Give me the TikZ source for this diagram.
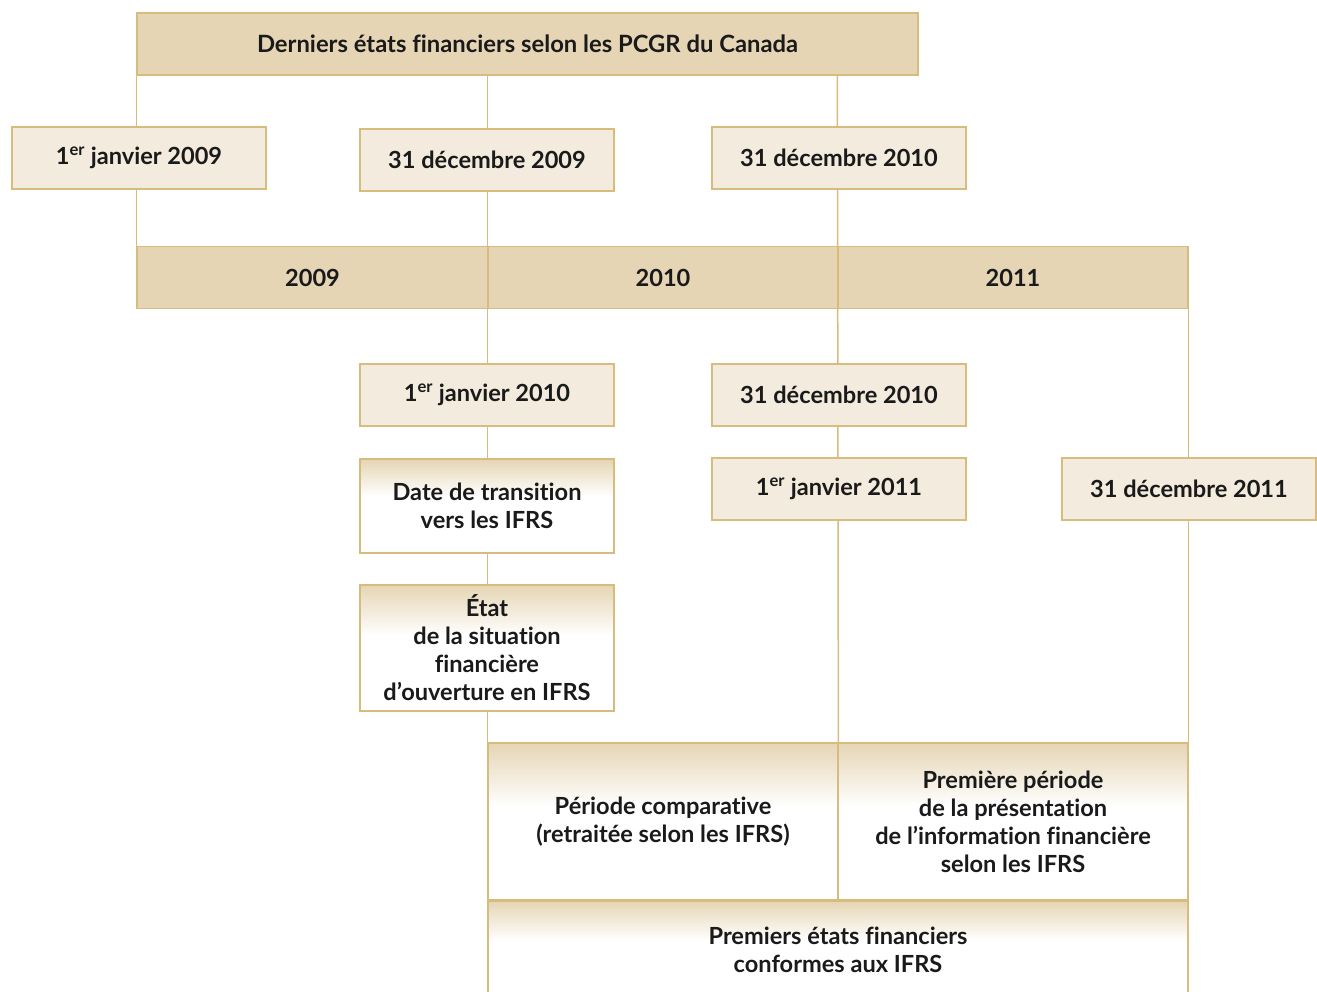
\documentclass[tikz,border=0pt]{standalone}
\usepackage{fontspec}
\setmainfont[Ligatures=NoCommon]{Lato}
\usetikzlibrary{backgrounds}

\definecolor{band}{HTML}{E5D5B4}
\definecolor{pale}{HTML}{F3EBDD}
\definecolor{gold}{HTML}{D8BC7E}
\definecolor{ink}{HTML}{1A1A1A}

% tan at the top edge, fading to white about 40% of the way down
\pgfdeclareverticalshading{fadedown}{100bp}{color(0bp)=(white); color(25bp)=(white); color(55bp)=(white); color(75bp)=(band); color(100bp)=(band)}

\tikzset{
  x=1pt, y=-1pt,
  box/.style={draw=gold, line width=1.3pt, inner sep=0pt, align=center,
              font=\bfseries\fontsize{23.6}{28}\selectfont, text=ink},
  datebox/.style={box, fill=pale, minimum width=254pt, minimum height=62pt},
  bandbox/.style={box, fill=band, minimum height=62pt},
  fadebox/.style={box, shading=fadedown},
  link/.style={draw=gold, line width=1.5pt}
}

\begin{document}
\begin{tikzpicture}
\useasboundingbox (0,0) rectangle (1317,992);

% header
\node[bandbox, minimum width=781pt, font=\bfseries\fontsize{23.8}{28}\selectfont] (top) at (527.5,44) {Derniers états financiers selon les PCGR du Canada};

% first row of dates
\node[datebox] (d09a) at (139,158) {1\textsuperscript{er} janvier 2009};
\node[datebox] (d09b) at (487,160) {31 décembre 2009};
\node[datebox] (d10a) at (839,158) {31 décembre 2010};

% years
\node[bandbox, minimum width=351pt] (y2009) at (312.5,277.5) {2009};
\node[bandbox, minimum width=350pt] (y2010) at (663,277.5) {2010};
\node[bandbox, minimum width=350pt] (y2011) at (1013,277.5) {2011};

% second row of dates
\node[datebox] (j10) at (487,395) {1\textsuperscript{er} janvier 2010};
\node[datebox] (d10b) at (839,395) {31 décembre 2010};
\node[fadebox, minimum width=254pt, minimum height=94pt] (trans) at (487,506) {Date de transition\\vers les IFRS};
\node[datebox] (j11) at (839,489) {1\textsuperscript{er} janvier 2011};
\node[datebox] (d11) at (1189,489) {31 décembre 2011};
\node[fadebox, minimum width=254pt, minimum height=126pt] (etat) at (487,648) {État\\de la situation\\financière\\d’ouverture en IFRS};

% periods
\node[fadebox, minimum width=350pt, minimum height=157pt] (comp) at (663,821.5) {Période comparative\\(retraitée selon les IFRS)};
\node[fadebox, minimum width=350pt, minimum height=157pt] (prem) at (1013,821.5) {Première période\\de la présentation\\de l’information financière\\selon les IFRS};
\node[fadebox, minimum width=700pt, minimum height=98pt] (final) at (838,950) {Premiers états financiers\\conformes aux IFRS};

% time lines behind the boxes
\begin{scope}[on background layer]
  \draw[link] (top.south west) -- (y2009.north west);
  \draw[link] (top.south -| final.west) -- (final.south west);
  \draw[link] (top.south -| y2011.west) -- (comp.south east);
  \draw[link] (y2011.south east) -- (final.south east);
\end{scope}
\end{tikzpicture}
\end{document}
